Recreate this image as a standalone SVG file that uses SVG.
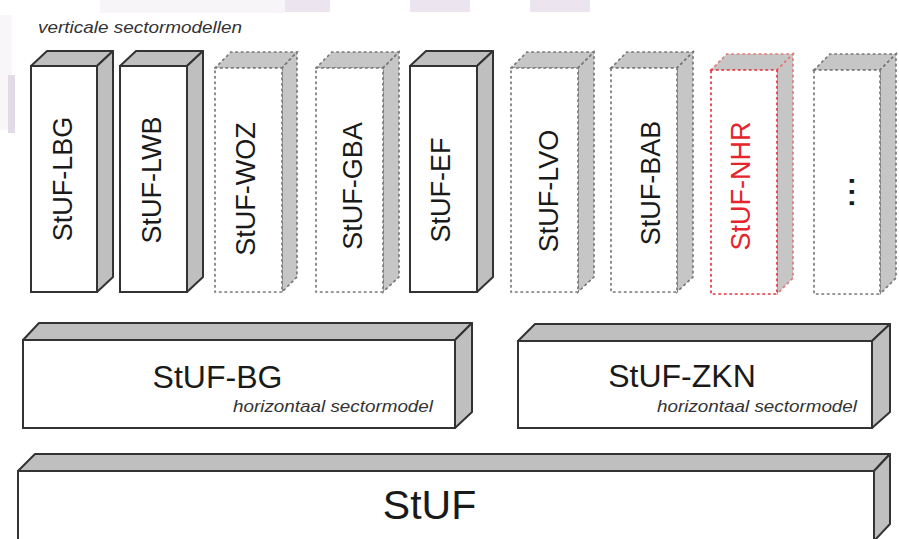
<svg xmlns="http://www.w3.org/2000/svg" width="899" height="539" viewBox="0 0 899 539">
<style>
.face{fill:#bfbfbf;stroke:#333;stroke-width:2;stroke-linejoin:round}
.front{fill:#fff;stroke:#333;stroke-width:2}
.dface{fill:#c6c6c6;stroke:#777;stroke-width:1.7;stroke-dasharray:1.5 4;stroke-linecap:round}
.dfront{fill:#fff;stroke:#777;stroke-width:1.7;stroke-dasharray:1.5 4;stroke-linecap:round}
.rface{fill:#c6c6c6;stroke:#e07a7a;stroke-width:1.7;stroke-dasharray:1.5 4;stroke-linecap:round}
.rfront{fill:#fff;stroke:#e8303a;stroke-width:1.7;stroke-dasharray:1.5 4;stroke-linecap:round}
.vt{font-family:"Liberation Sans",Arial,Helvetica,sans-serif;font-size:27px;fill:#1a1a1a;text-anchor:middle}
.big{font-family:"Liberation Sans",Arial,Helvetica,sans-serif;fill:#1a1a1a;text-anchor:middle}
.it{font-family:"Liberation Sans",Arial,Helvetica,sans-serif;font-style:italic;font-size:17px;fill:#333}
</style>
<g id="background">
<rect x="100" y="0" width="185" height="13" fill="#f8f5f8"/>
<rect x="285" y="0" width="45" height="12" fill="#ece4ee"/>
<rect x="410" y="0" width="60" height="12" fill="#ece4ee"/>
<rect x="530" y="0" width="60" height="12" fill="#ece4ee"/>
<rect x="0" y="15" width="12" height="115" fill="#f8f6f8"/>
<rect x="8" y="75" width="7" height="58" fill="#e2dae6"/>
</g>
<g id="label-vertical"><text class="it" x="38" y="33" textLength="204" lengthAdjust="spacingAndGlyphs">verticale sectormodellen</text></g>
<g id="node-LBG">
<polygon class="face" points="31,66 47,51 113,51 97,66"/>
<polygon class="face" points="97,66 113,51 113,277 97,292"/>
<rect class="front" x="31" y="66" width="66" height="226"/>
<text class="vt" transform="translate(72,179) rotate(-90)">StUF-LBG</text>
</g>
<g id="node-LWB">
<polygon class="face" points="120,66 136,51 203,51 187,66"/>
<polygon class="face" points="187,66 203,51 203,277 187,292"/>
<rect class="front" x="120" y="66" width="67" height="226"/>
<text class="vt" transform="translate(161,180) rotate(-90)">StUF-LWB</text>
</g>
<g id="node-WOZ">
<polygon class="dface" points="215,68 231,52 297,52 282,68"/>
<polygon class="dface" points="282,68 297,52 297,277 282,292"/>
<rect class="dfront" x="215" y="68" width="67" height="224"/>
<text class="vt" transform="translate(255,189) rotate(-90)">StUF-WOZ</text>
</g>
<g id="node-GBA">
<polygon class="dface" points="316,68 332,52 399,52 383,68"/>
<polygon class="dface" points="383,68 399,52 399,277 383,292"/>
<rect class="dfront" x="316" y="68" width="67" height="224"/>
<text class="vt" transform="translate(362,186) rotate(-90)">StUF-GBA</text>
</g>
<g id="node-EF">
<polygon class="face" points="410,66 426,51 493,51 477,66"/>
<polygon class="face" points="477,66 493,51 493,277 477,292"/>
<rect class="front" x="410" y="66" width="67" height="226"/>
<text class="vt" transform="translate(450,190) rotate(-90)">StUF-EF</text>
</g>
<g id="node-LVO">
<polygon class="dface" points="511,68 527,52 594,52 578,68"/>
<polygon class="dface" points="578,68 594,52 594,277 578,292"/>
<rect class="dfront" x="511" y="68" width="67" height="224"/>
<text class="vt" transform="translate(558,191) rotate(-90)">StUF-LVO</text>
</g>
<g id="node-BAB">
<polygon class="dface" points="611,68 627,52 693,52 677,68"/>
<polygon class="dface" points="677,68 693,52 693,277 677,292"/>
<rect class="dfront" x="611" y="68" width="66" height="224"/>
<text class="vt" transform="translate(660,183) rotate(-90)">StUF-BAB</text>
</g>
<g id="node-NHR">
<polygon class="rface" points="711,70 727,54 793,54 777,70"/>
<polygon class="rface" points="777,70 793,54 793,278 777,294"/>
<rect class="rfront" x="711" y="70" width="66" height="224"/>
<text class="vt" transform="translate(750,186) rotate(-90)" style="fill:#e5242b">StUF-NHR</text>
</g>
<g id="node-more">
<polygon class="dface" points="814,70 830,54 896,54 880,70"/>
<polygon class="dface" points="880,70 896,54 896,278 880,294"/>
<rect class="dfront" x="814" y="70" width="66" height="224"/>
<text class="vt" transform="translate(854,192) rotate(-90)" style="font-size:40px">...</text>
</g>
<g id="node-BG">
<polygon class="face" points="23,340 39,323 472,323 455,340"/>
<polygon class="face" points="455,340 472,323 472,412 455,428"/>
<rect class="front" x="23" y="340" width="432" height="88"/>
<text class="big" x="217.5" y="388" font-size="32">StUF-BG</text>
<text class="it" x="233" y="412" textLength="200" lengthAdjust="spacingAndGlyphs">horizontaal sectormodel</text>
</g>
<g id="node-ZKN">
<polygon class="face" points="518,341 535,324 890,324 872,341"/>
<polygon class="face" points="872,341 890,324 890,412 872,428"/>
<rect class="front" x="518" y="341" width="354" height="87"/>
<text class="big" x="682" y="387" font-size="32">StUF-ZKN</text>
<text class="it" x="657" y="412" textLength="200" lengthAdjust="spacingAndGlyphs">horizontaal sectormodel</text>
</g>
<g id="node-StUF">
<polygon class="face" points="18,471 35,454 890,454 874,471"/>
<polygon class="face" points="874,471 890,454 890,524 874,541"/>
<rect class="front" x="18" y="471" width="856" height="75"/>
<text class="big" x="429.5" y="519" font-size="41">StUF</text>
</g>
<g id="connectors"/>
</svg>
